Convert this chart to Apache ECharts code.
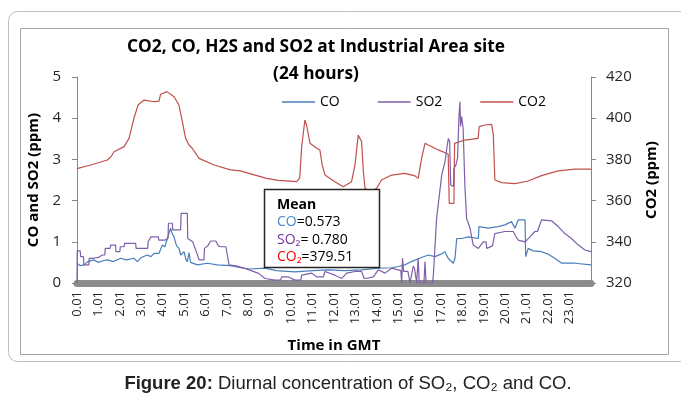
<!DOCTYPE html>
<html lang="en">
<head>
    <meta charset="UTF-8">
    <script src="https://cdn.jsdelivr.net/npm/echarts@6/dist/echarts.min.js"></script>
    <title>CO2, CO, H2S and SO2 at Industrial Area site</title>
    <style>
        body { margin: 0; background: #ffffff; }
        #chart { width: 681px; height: 401px; }
    </style>
</head>
<body>
    <div id="chart"></div>
    <script>
        var hourLabels = ['0.01', '1.01', '2.01', '3.01', '4.01', '5.01', '6.01', '7.01', '8.01', '9.01', '10.01', '11.01',
            '12.01', '13.01', '14.01', '15.01', '16.01', '17.01', '18.01', '19.01', '20.01', '21.01', '22.01', '23.01'];

        // CO2 (ppm), right axis
        var co2Hours = [0.0, 0.64, 1.42, 1.6, 1.73, 2.2, 2.43, 2.66, 2.85, 3.13, 3.6, 3.83, 3.9, 4.2, 4.53, 4.76, 4.92, 5.07,
            5.23, 5.38, 5.7, 6.4, 7.17, 7.64, 8.03, 8.85, 9.4, 10.26, 10.4, 10.49, 10.64, 10.72, 10.88, 11.19, 11.34, 11.45,
            11.58, 12.04, 12.43, 12.82, 12.98, 13.13, 13.21, 13.29, 13.37, 13.45, 13.7, 13.99, 14.22, 14.69, 15.31, 15.78,
            15.93, 16.09, 16.25, 16.4, 16.87, 17.33, 17.36, 17.38, 17.6, 17.63, 17.65, 18.11, 18.73, 18.78, 19.05, 19.36,
            19.44, 19.51, 19.83, 20.45, 21.07, 21.69, 22.47, 23.25, 24.0];
        var co2Ppm = [375.5, 377.3, 379.7, 381.5, 383.7, 386.2, 390.2, 400, 406.4, 408.8, 408, 408.3, 411.6, 412.9, 410.4,
            406.4, 398.3, 390.2, 387, 385.4, 380.5, 377.3, 374.9, 374.4, 373.2, 370.8, 369.8, 369.2, 371, 386, 399.1, 396.7,
            387.8, 385.4, 384.6, 377.3, 372.4, 369.2, 366.7, 369.2, 377.3, 391.8, 390.2, 388.6, 374, 366, 364, 366, 370,
            372.4, 373.2, 372, 370.8, 380.5, 387.8, 387, 384.6, 382.6, 369.2, 358.7, 358.7, 387.8, 388.6, 389.4, 390.2,
            395.9, 396.7, 397, 391.8, 370, 368.7, 368.2, 369.5, 372.1, 374.4, 375.3, 375.3];

        // CO (ppm), left axis
        var coHours = [0.0, 0.15, 0.33, 0.5, 0.79, 1.0, 1.2, 1.42, 1.7, 2.04, 2.3, 2.66, 2.82, 3.0, 3.28, 3.45, 3.6, 3.83,
            3.98, 4.1, 4.22, 4.37, 4.45, 4.53, 4.65, 4.76, 4.84, 5.0, 5.08, 5.15, 5.23, 5.3, 5.38, 5.62, 6.08, 6.55, 7.17,
            7.64, 8.03, 8.78, 9.3, 10.18, 11.0, 11.73, 12.5, 13.29, 14.07, 14.69, 15.0, 15.31, 15.62, 16.0, 16.4, 16.71,
            17.0, 17.18, 17.33, 17.57, 17.65, 17.73, 17.96, 18.27, 18.74, 18.77, 19.2, 19.67, 19.98, 20.29, 20.45, 20.6,
            20.92, 20.95, 21.07, 21.3, 21.69, 22.0, 22.31, 22.63, 23.25, 24.0];
        var coPpm = [0.48, 0.42, 0.44, 0.52, 0.56, 0.5, 0.54, 0.56, 0.52, 0.6, 0.56, 0.6, 0.52, 0.62, 0.68, 0.64, 0.72, 0.72,
            0.92, 0.88, 1.08, 1.33, 1.2, 1.12, 0.9, 0.84, 0.68, 0.76, 0.58, 0.52, 0.74, 0.5, 0.48, 0.44, 0.48, 0.44, 0.42,
            0.37, 0.34, 0.36, 0.3, 0.27, 0.3, 0.32, 0.3, 0.32, 0.36, 0.37, 0.4, 0.44, 0.52, 0.6, 0.68, 0.64, 0.7, 0.76, 0.6,
            0.48, 0.6, 1.08, 1.08, 1.12, 1.08, 1.37, 1.33, 1.37, 1.41, 1.49, 1.33, 1.53, 1.53, 0.64, 0.84, 0.78, 0.76, 0.7,
            0.6, 0.48, 0.48, 0.44];

        // SO2 (ppm), left axis
        var so2Hours = [0.0, 0.01, 0.15, 0.17, 0.3, 0.32, 0.55, 0.57, 0.79, 1.0, 1.18, 1.3, 1.32, 1.55, 1.57, 1.8, 1.82, 2.0,
            2.02, 2.2, 2.22, 2.74, 2.76, 3.3, 3.32, 3.45, 3.8, 3.82, 4.1, 4.12, 4.25, 4.27, 4.45, 4.47, 4.84, 4.86, 5.15,
            5.17, 5.4, 5.46, 5.6, 5.7, 5.93, 5.95, 6.1, 6.24, 6.48, 6.6, 6.71, 6.95, 7.02, 7.1, 7.48, 7.8, 8.03, 8.46, 8.78,
            9.24, 9.5, 9.56, 9.85, 9.87, 10.18, 10.45, 10.49, 10.96, 11.19, 11.5, 11.58, 12.04, 12.36, 12.59, 12.98, 13.29,
            13.4, 13.52, 13.83, 14.07, 14.38, 14.69, 15.0, 15.12, 15.16, 15.2, 15.25, 15.45, 15.55, 15.62, 15.7, 15.76,
            15.86, 15.93, 15.98, 16.2, 16.25, 16.3, 16.6, 16.64, 16.79, 16.87, 17.03, 17.18, 17.29, 17.34, 17.4, 17.45,
            17.5, 17.58, 17.6, 17.69, 17.77, 17.83, 17.88, 17.91, 17.96, 18.03, 18.11, 18.19, 18.35, 18.5, 18.74, 18.8,
            18.97, 19.1, 19.13, 19.4, 19.51, 19.98, 20.37, 20.45, 20.6, 20.92, 21.15, 21.38, 21.5, 21.69, 22.16, 22.47,
            22.78, 23.09, 23.41, 23.72, 24.0];
        var so2Ppm = [0, 0.78, 0.78, 0.64, 0.64, 0.44, 0.44, 0.6, 0.6, 0.62, 0.68, 0.68, 0.84, 0.84, 0.92, 0.92, 0.76, 0.76,
            0.88, 0.88, 0.96, 0.96, 0.84, 0.84, 1.0, 1.12, 1.12, 1.04, 1.04, 1.08, 1.08, 1.45, 1.45, 1.29, 1.29, 1.69, 1.69,
            1.08, 1.0, 0.92, 0.72, 0.56, 0.56, 0.84, 0.9, 1.02, 1.02, 0.9, 0.88, 0.88, 0.68, 0.44, 0.41, 0.36, 0.32, 0.24,
            0.11, 0.07, 0.07, 0.15, 0.15, 0.11, 0.07, 0.07, 0.19, 0.24, 0.15, 0.15, 0.28, 0.19, 0.11, 0.24, 0.28, 0.28,
            0.12, 0.11, 0.15, 0.32, 0.24, 0.36, 0.32, 0.3, 0, 0.6, 0.28, 0.28, 0, 0, 0.41, 0.35, 0, 0.6, 0, 0, 0.52, 0, 0,
            0.19, 1.57, 1.61, 2.62, 2.94, 3.35, 3.51, 3.43, 2.38, 2.34, 2.34, 2.78, 2.86, 3.03, 4.0, 4.4, 3.8, 4.04, 3.75,
            2.38, 1.57, 1.33, 0.92, 0.84, 0.84, 1.0, 1.0, 0.84, 0.9, 1.2, 1.25, 1.25, 1.17, 1.04, 1.0, 1.12, 1.25, 1.25,
            1.53, 1.51, 1.37, 1.2, 1.08, 0.92, 0.8, 0.76];

        function pairs(hours, values) {
            return hours.map(function (h, i) { return [h, values[i]]; });
        }

        var chart = echarts.init(document.getElementById('chart'));

        var axisColor = '#868686';
        var labelColor = '#262626';
        var font = '"Open Sans", Lato, sans-serif';
        var arial = '"Liberation Sans", Arial, sans-serif';

        var option = {
            backgroundColor: '#ffffff',
            animation: false,
            textStyle: { fontFamily: font },
            grid: { left: 77, right: 90, top: 77, bottom: 118 },
            legend: {
                left: 282, top: 95, padding: 0,
                itemWidth: 33, itemHeight: 1.5, itemGap: 38,
                icon: 'rect',
                textStyle: { fontFamily: font, fontSize: 14, color: '#000000' },
                data: ['CO', 'SO2', 'CO2']
            },
            xAxis: {
                type: 'value',
                min: 0, max: 24, interval: 1,
                name: 'Time in GMT',
                nameLocation: 'middle',
                nameGap: 55,
                nameTextStyle: { fontFamily: font, fontSize: 15, fontWeight: 'bold', color: '#000000' },
                axisLine: { lineStyle: { color: '#8c8c8c', width: 7 } },
                axisTick: { show: false },
                splitLine: { show: false },
                axisLabel: {
                    rotate: 90, fontSize: 13, color: labelColor, margin: 8, fontFamily: font,
                    formatter: function (v) { return hourLabels[v] || ''; }
                }
            },
            yAxis: [{
                type: 'value',
                min: 0, max: 5, interval: 1,
                name: 'CO and SO2 (ppm)',
                nameLocation: 'middle',
                nameRotate: 90,
                nameGap: 30,
                nameTextStyle: { fontFamily: font, fontSize: 15, fontWeight: 'bold', color: '#000000' },
                axisLine: { show: true, lineStyle: { color: axisColor, width: 1 } },
                axisTick: { show: true, inside: false, length: 5, lineStyle: { color: axisColor } },
                splitLine: { show: false },
                axisLabel: { fontSize: 15, color: labelColor, margin: 16, fontFamily: font }
            }, {
                type: 'value',
                position: 'right',
                min: 320, max: 420, interval: 20,
                name: 'CO2 (ppm)',
                nameLocation: 'middle',
                nameRotate: 90,
                nameGap: 53,
                nameTextStyle: { fontFamily: font, fontSize: 15, fontWeight: 'bold', color: '#000000' },
                axisLine: { show: true, lineStyle: { color: axisColor, width: 1 } },
                axisTick: { show: true, inside: false, length: 5, lineStyle: { color: axisColor } },
                splitLine: { show: false },
                axisLabel: { fontSize: 15, color: labelColor, margin: 15, fontFamily: font }
            }],
            series: [{
                name: 'CO',
                type: 'line',
                yAxisIndex: 0,
                data: pairs(coHours, coPpm),
                symbol: 'none',
                color: '#4a7ebb',
                lineStyle: { width: 1.2, color: '#4a7ebb' },
                z: 3
            }, {
                name: 'SO2',
                type: 'line',
                yAxisIndex: 0,
                data: pairs(so2Hours, so2Ppm),
                symbol: 'none',
                color: '#7f5fa9',
                lineStyle: { width: 1.2, color: '#7f5fa9' },
                z: 4
            }, {
                name: 'CO2',
                type: 'line',
                yAxisIndex: 1,
                data: pairs(co2Hours, co2Ppm),
                symbol: 'none',
                color: '#c0504d',
                lineStyle: { width: 1.2, color: '#c0504d' },
                z: 2
            }],
            graphic: [{
                type: 'rect',
                z: -10,
                shape: { x: 8.5, y: 11.5, width: 700, height: 350, r: 9 },
                style: { fill: 'none', stroke: '#bfbfbf', lineWidth: 1 }
            }, {
                type: 'rect',
                z: -10,
                shape: { x: 20.5, y: 28.5, width: 648, height: 326 },
                style: { fill: 'none', stroke: '#a6a6a6', lineWidth: 1 }
            }, {
                type: 'text',
                z: 10,
                style: {
                    x: 316, y: 34, textAlign: 'center',
                    text: 'CO2, CO, H2S and SO2 at Industrial Area site\n(24 hours)',
                    fontFamily: font, fontSize: 17.3, fontWeight: 'bold', lineHeight: 27, fill: '#000000'
                }
            }, {
                type: 'rect',
                z: 100,
                shape: { x: 264.5, y: 189.5, width: 115, height: 78 },
                style: { fill: '#ffffff', stroke: '#262626', lineWidth: 1.5 }
            }, {
                type: 'text',
                z: 101,
                style: {
                    x: 277, y: 196,
                    text: '{b|Mean}\n{co|CO}=0.573\n{so|SO₂}= 0.780\n{c2|CO₂}=379.51',
                    fontFamily: font, fontSize: 14, lineHeight: 17.5, fill: '#000000',
                    rich: {
                        b: { fontWeight: 'bold', fontSize: 14, fontFamily: font },
                        co: { fill: '#4a86c8', fontSize: 14, fontFamily: font },
                        so: { fill: '#7030a0', fontSize: 14, fontFamily: font },
                        c2: { fill: '#ff0000', fontSize: 14, fontFamily: font }
                    }
                }
            }, {
                type: 'text',
                z: 10,
                style: {
                    x: 348, y: 374, textAlign: 'center',
                    text: '{b|Figure 20:} Diurnal concentration of SO₂, CO₂ and CO.',
                    fontFamily: arial, fontSize: 18.5, fill: '#222222',
                    rich: {
                        b: { fontWeight: 'bold', fontSize: 18.5, fontFamily: arial, fill: '#222222' }
                    }
                }
            }]
        };

        chart.setOption(option);
    </script>
</body>
</html>
